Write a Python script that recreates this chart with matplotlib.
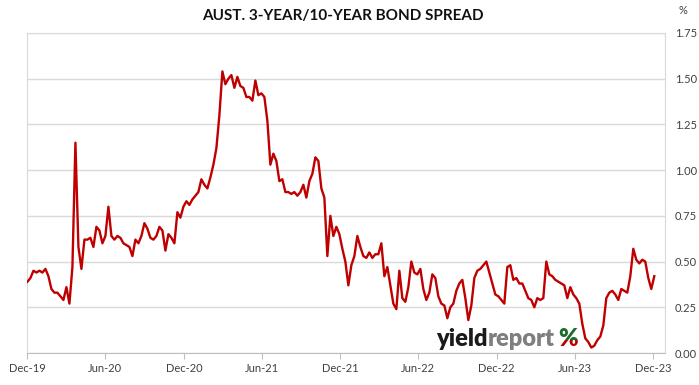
import pandas as pd
import matplotlib
matplotlib.use('Agg')
import matplotlib.pyplot as plt
from matplotlib.transforms import Bbox

plt.rcParams['font.family'] = ['Lato', 'DejaVu Sans']

# weekly readings of the 3y/10y spread (%), starting early Dec 2019
spread = [
    0.39, 0.41, 0.45, 0.44, 0.45, 0.44, 0.46, 0.42, 0.35, 0.33,
    0.33, 0.31, 0.29, 0.36, 0.27, 0.47, 1.15, 0.58, 0.46, 0.62,
    0.62, 0.63, 0.58, 0.69, 0.67, 0.60, 0.64, 0.80, 0.64, 0.62,
    0.64, 0.63, 0.60, 0.59, 0.58, 0.53, 0.62, 0.60, 0.64, 0.71,
    0.68, 0.63, 0.62, 0.64, 0.69, 0.67, 0.56, 0.65, 0.63, 0.60,
    0.77, 0.74, 0.80, 0.83, 0.81, 0.84, 0.86, 0.88, 0.95, 0.92,
    0.90, 0.96, 1.03, 1.12, 1.30, 1.54, 1.47, 1.50, 1.52, 1.45,
    1.51, 1.46, 1.45, 1.40, 1.40, 1.38, 1.49, 1.41, 1.42, 1.40,
    1.27, 1.03, 1.09, 1.05, 0.94, 0.95, 0.88, 0.88, 0.87, 0.88,
    0.86, 0.88, 0.92, 0.85, 0.94, 0.98, 1.07, 1.05, 0.90, 0.85,
    0.53, 0.75, 0.64, 0.69, 0.65, 0.57, 0.50, 0.37, 0.48, 0.53,
    0.64, 0.58, 0.53, 0.52, 0.55, 0.52, 0.54, 0.54, 0.60, 0.42,
    0.47, 0.37, 0.27, 0.24, 0.45, 0.30, 0.28, 0.36, 0.50, 0.44,
    0.43, 0.46, 0.35, 0.29, 0.33, 0.43, 0.41, 0.31, 0.27, 0.26,
    0.19, 0.25, 0.27, 0.34, 0.38, 0.40, 0.30, 0.18, 0.26, 0.41,
    0.45, 0.46, 0.48, 0.50, 0.44, 0.38, 0.32, 0.31, 0.29, 0.27,
    0.47, 0.48, 0.40, 0.41, 0.38, 0.38, 0.34, 0.30, 0.29, 0.25,
    0.30, 0.29, 0.30, 0.50, 0.43, 0.42, 0.40, 0.39, 0.38, 0.37,
    0.30, 0.36, 0.32, 0.30, 0.27, 0.16, 0.08, 0.06, 0.03, 0.04,
    0.07, 0.09, 0.15, 0.30, 0.33, 0.34, 0.32, 0.29, 0.35, 0.34,
    0.33, 0.42, 0.57, 0.51, 0.49, 0.51, 0.50, 0.41, 0.35, 0.42,
]
dates = pd.date_range('2019-12-02', periods=len(spread), freq='7D')

tick_dates = pd.date_range('2019-12-01', '2023-12-01', freq='6MS')
tick_labels = [d.strftime('%b-%y') for d in tick_dates]
y_ticks = [0, 0.25, 0.5, 0.75, 1.0, 1.25, 1.5, 1.75]

fig = plt.figure(figsize=(6.99, 3.85), dpi=100)
ax = fig.add_axes([27 / 699, 1 - 353 / 385, 638 / 699, 320 / 385])

ax.plot(dates, spread, color='#C00000', lw=1.7, zorder=3)

ax.set_ylim(0, 1.75)
ax.set_xlim(pd.Timestamp('2019-12-01'), pd.Timestamp('2023-12-29'))
ax.yaxis.tick_right()
ax.set_yticks(y_ticks)
ax.set_yticklabels([f'{v:.2f}' for v in y_ticks])
ax.tick_params(axis='y', length=0, pad=7, labelsize=8, labelcolor='#404040')
ax.set_xticks(tick_dates)
ax.set_xticklabels(tick_labels)
ax.tick_params(axis='x', length=4, color='#BFBFBF', pad=3, labelsize=8,
               labelcolor='#404040')
ax.grid(axis='y', color='#D9D9D9', lw=1)
ax.set_axisbelow(True)
for s in ax.spines.values():
    s.set_color('#D9D9D9')
ax.spines['bottom'].set_color('#BFBFBF')

fig.text(0.49, 1 - 16 / 385, 'AUST. 3-YEAR/10-YEAR BOND SPREAD', ha='center',
         va='center', fontsize=11, fontweight='bold', color='#111111')
fig.text(683 / 699, 1 - 10 / 385, '%', ha='center', va='center', fontsize=8,
         color='#404040')

# yieldreport watermark
r = fig.canvas.get_renderer()
x0, yb = 436 / 699, 1 - 346 / 385
t1 = fig.text(x0, yb, 'yield', fontsize=17, fontweight='heavy', color='#1a1a1a',
              va='baseline', ha='left')
w1 = t1.get_window_extent(r).width / fig.bbox.width
t2 = fig.text(x0 + w1, yb, 'report', fontsize=17, fontweight='heavy',
              color='#7f7f7f', va='baseline', ha='left')
w2 = t2.get_window_extent(r).width / fig.bbox.width
px = x0 + w1 + w2 + 4 / 699
tg = fig.text(px, yb, '%', fontsize=17, fontweight='heavy', color='#1e6b2e',
              va='baseline', ha='left')
tr = fig.text(px, yb, '%', fontsize=17, fontweight='heavy', color='#C00000',
              va='baseline', ha='left')
bb = tg.get_window_extent(r)
mid = bb.y0 + bb.height * 0.45
tg.set_clip_box(Bbox([[bb.x0 - 2, mid], [bb.x1 + 2, bb.y1 + 2]]))
tr.set_clip_box(Bbox([[bb.x0 - 2, bb.y0 - 2], [bb.x1 + 2, mid]]))

fig.savefig('out.png', dpi=100)
